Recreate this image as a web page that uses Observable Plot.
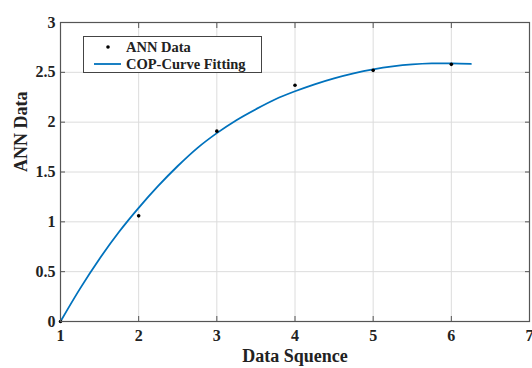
<!DOCTYPE html>
<html>
<head>
<meta charset="utf-8">
<script src="https://cdn.jsdelivr.net/npm/d3@7"></script>
<script src="https://cdn.jsdelivr.net/npm/@observablehq/plot@0.6"></script>
<style>
  html, body { margin: 0; padding: 0; background: #fff; }
  #wrap { position: relative; width: 532px; height: 368px; overflow: hidden; }
  #legend {
    position: absolute; left: 83px; top: 36px; width: 179px; height: 37px;
    border: 1px solid #444; background: #fff; box-sizing: border-box;
    font-family: "Liberation Serif", "Times New Roman", serif; font-weight: bold; font-size: 14.5px; color: #222;
  }
  #legend .row { position: absolute; left: 0; height: 18px; display: flex; align-items: center; }
  #legend svg { display: block; }
</style>
</head>
<body>
<div id="wrap">
  <div id="chart"></div>
  <div id="legend">
    <div class="row" style="top:1px;"><svg width="42" height="18"><circle cx="24" cy="9" r="1.8" fill="#000"></circle></svg><span>ANN Data</span></div>
    <div class="row" style="top:18px;"><svg width="42" height="18"><line x1="10" x2="37" y1="9" y2="9" stroke="#0072BD" stroke-width="1.8"></line></svg><span>COP-Curve Fitting</span></div>
  </div>
</div>
<script>
// ANN data points
const annX = [1, 2, 3, 4, 5, 6];
const annY = [0, 1.06, 1.91, 2.37, 2.52, 2.58];

// Fitted curve
const fitX = [1, 1.25, 1.5, 1.75, 2, 2.25, 2.5, 2.75, 3, 3.25, 3.5, 3.75, 4, 4.25, 4.5, 4.75, 5, 5.25, 5.5, 5.75, 6, 6.25];
const fitY = [0, 0.33, 0.63, 0.90, 1.14, 1.36, 1.56, 1.74, 1.89, 2.02, 2.13, 2.23, 2.31, 2.38, 2.44, 2.49, 2.53, 2.56, 2.58, 2.59, 2.59, 2.585];

const xTicks = [1, 2, 3, 4, 5, 6, 7];
const yTicks = [0, 0.5, 1, 1.5, 2, 2.5, 3];
const xLabel = "Data Squence";
const yLabel = "ANN Data";

const ann = annX.map((x, i) => ({x, y: annY[i]}));
const fit = fitX.map((x, i) => ({x, y: fitY[i]}));

const font = "'Liberation Serif', 'Times New Roman', serif";
const axisColor = "#555";

const plot = Plot.plot({
  width: 532,
  height: 368,
  marginLeft: 60,
  marginRight: 3,
  marginTop: 22,
  marginBottom: 47,
  style: {fontFamily: font, fontWeight: "bold", fontSize: "16px", color: "#222", background: "#fff", overflow: "visible"},
  x: {domain: [1, 7]},
  y: {domain: [0, 3]},
  marks: [
    Plot.gridX(xTicks, {stroke: "#dcdcdc", strokeOpacity: 1}),
    Plot.gridY(yTicks, {stroke: "#dcdcdc", strokeOpacity: 1}),
    Plot.line(fit, {x: "x", y: "y", stroke: "#0072BD", strokeWidth: 1.8, curve: "catmull-rom"}),
    Plot.dot(ann, {x: "x", y: "y", r: 1.8, fill: "#000", stroke: null}),
    Plot.frame({stroke: axisColor, strokeWidth: 1.2}),
    Plot.axisX(xTicks, {anchor: "bottom", tickSize: 0, tickPadding: 8, label: null, fontSize: 16, fill: "#222"}),
    Plot.axisX(xTicks, {anchor: "bottom", tickSize: -5, tickFormat: () => "", label: null, stroke: axisColor}),
    Plot.axisX(xTicks, {anchor: "top", tickSize: -5, tickFormat: () => "", label: null, stroke: axisColor}),
    Plot.axisY(yTicks, {anchor: "left", tickSize: 0, tickPadding: 5, label: null, fontSize: 16, fill: "#222", tickFormat: d => String(d)}),
    Plot.axisY(yTicks, {anchor: "left", tickSize: -5, tickFormat: () => "", label: null, stroke: axisColor}),
    Plot.axisY(yTicks, {anchor: "right", tickSize: -5, tickFormat: () => "", label: null, stroke: axisColor}),
    Plot.text([xLabel], {text: d => d, frameAnchor: "bottom", dy: 40, fontSize: 18, fontWeight: "bold", fill: "#222"}),
    Plot.text([yLabel], {text: d => d, frameAnchor: "left", dx: -39, rotate: -90, fontSize: 18, fontWeight: "bold", fill: "#222"})
  ]
});
document.getElementById("chart").appendChild(plot);
</script>
</body>
</html>
